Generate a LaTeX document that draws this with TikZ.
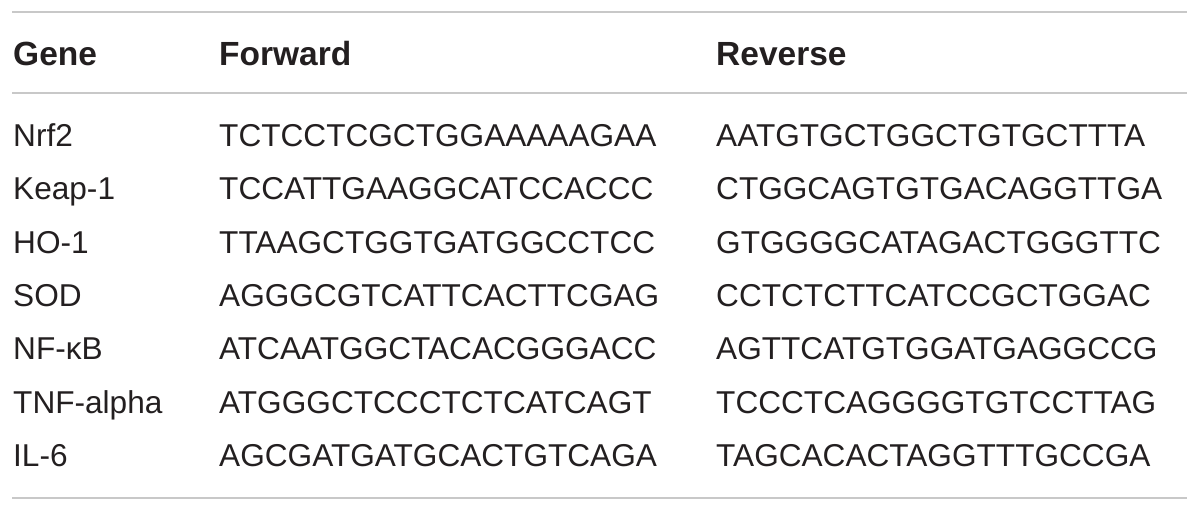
\documentclass[tikz,border=0pt]{standalone}
\usepackage{fontspec}
\setmainfont{Liberation Sans}
\usepackage{tikz}
\definecolor{rulegray}{RGB}{200,200,200}
\definecolor{inkgray}{RGB}{35,31,32}
\tikzset{
  cell/.style={anchor=base west,inner sep=0pt,text=inkgray,font=\fontsize{31.6}{36}\selectfont},
  head/.style={cell,font=\fontsize{33.5}{38}\selectfont\bfseries},
  tabrule/.style={draw=rulegray,line width=2pt}
}
\begin{document}
\begin{tikzpicture}[x=1pt,y=-1pt]
\useasboundingbox (0,0) rectangle (1200,512);
\coordinate (topl) at (12,12);    \coordinate (topr) at (1187,12);
\coordinate (midl) at (12,93);    \coordinate (midr) at (1187,93);
\coordinate (botl) at (12,498);   \coordinate (botr) at (1187,498);
\draw[tabrule] (topl) -- (topr);
\draw[tabrule] (midl) -- (midr);
\draw[tabrule] (botl) -- (botr);
% header
\node[head] (hgene) at (13,65) {Gene};
\node[head] (hfwd) at (219,65) {Forward};
\node[head] (hrev) at (716,65) {Reverse};
% rows
\node[cell] (g1) at (13,146.5) {Nrf2};
\node[cell] (f1) at (219,146.5) {TCTCCTCGCTGGAAAAAGAA};
\node[cell] (r1) at (716,146.5) {AATGTGCTGGCTGTGCTTTA};
\node[cell] (g2) at (13,199.8) {Keap-1};
\node[cell] (f2) at (219,199.8) {TCCATTGAAGGCATCCACCC};
\node[cell] (r2) at (716,199.8) {CTGGCAGTGTGACAGGTTGA};
\node[cell] (g3) at (13,253.1) {HO-1};
\node[cell] (f3) at (219,253.1) {TTAAGCTGGTGATGGCCTCC};
\node[cell] (r3) at (716,253.1) {GTGGGGCATAGACTGGGTTC};
\node[cell] (g4) at (13,306.4) {SOD};
\node[cell] (f4) at (219,306.4) {AGGGCGTCATTCACTTCGAG};
\node[cell] (r4) at (716,306.4) {CCTCTCTTCATCCGCTGGAC};
\node[cell] (g5) at (13,359.7) {NF-κB};
\node[cell] (f5) at (219,359.7) {ATCAATGGCTACACGGGACC};
\node[cell] (r5) at (716,359.7) {AGTTCATGTGGATGAGGCCG};
\node[cell] (g6) at (13,413) {TNF-alpha};
\node[cell] (f6) at (219,413) {ATGGGCTCCCTCTCATCAGT};
\node[cell] (r6) at (716,413) {TCCCTCAGGGGTGTCCTTAG};
\node[cell] (g7) at (13,466.3) {IL-6};
\node[cell] (f7) at (219,466.3) {AGCGATGATGCACTGTCAGA};
\node[cell] (r7) at (716,466.3) {TAGCACACTAGGTTTGCCGA};
\end{tikzpicture}
\end{document}
